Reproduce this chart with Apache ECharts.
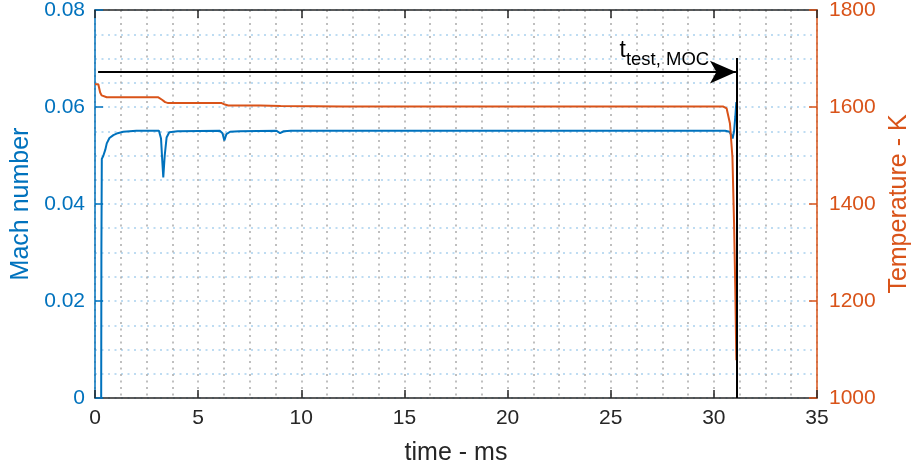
<!DOCTYPE html>
<html>
<head>
<meta charset="utf-8">
<script src="https://cdn.jsdelivr.net/npm/echarts@6/dist/echarts.min.js"></script>
<style>html,body{margin:0;padding:0;background:#fff}#c{width:914px;height:468px}</style>
</head>
<body>
<div id="c"></div>
<script>
// Mach number series (time in ms)
var machTime = [0.30, 0.31, 0.33, 0.40, 0.50, 0.57, 0.70, 0.89, 1.10, 1.37, 2.0, 3.10, 3.20, 3.26, 3.31, 3.38, 3.47, 3.60, 4.0, 6.05, 6.18, 6.27, 6.37, 6.55, 7.0, 8.80, 8.97, 9.15, 9.5, 12.0, 20.0, 30.55, 30.75, 30.85, 30.91, 30.98, 31.04, 31.09];
var machVal  = [0.0, 0.030, 0.0493, 0.0499, 0.0512, 0.0525, 0.0536, 0.0542, 0.0546, 0.0549, 0.0551, 0.0551, 0.0535, 0.0490, 0.0455, 0.0500, 0.0537, 0.0548, 0.0550, 0.0551, 0.0546, 0.0531, 0.0544, 0.0549, 0.0550, 0.0551, 0.0546, 0.0550, 0.0551, 0.0551, 0.0551, 0.0551, 0.0549, 0.0542, 0.0535, 0.0550, 0.0580, 0.0610];
// Temperature series (time in ms)
var tempTime = [0.0, 0.16, 0.25, 0.32, 0.57, 3.07, 3.25, 3.40, 3.55, 6.14, 6.30, 6.46, 8.0, 9.0, 12.0, 30.46, 30.62, 30.78, 30.90, 30.98, 31.04, 31.09];
var tempVal  = [1647, 1647, 1630, 1624, 1620, 1620, 1615, 1610, 1608, 1608, 1605, 1603, 1603, 1602, 1601, 1601, 1597, 1566, 1497, 1360, 1223, 1078];
// Annotation
var testEnd = 31.12;       // ms, end of test time (vertical line)
var arrowStart = 0.15;     // ms
var arrowLevel = 0.0672;   // on Mach axis
var lineTop = 0.0701;      // on Mach axis
var xTicks = [0, 5, 10, 15, 20, 25, 30, 35];
var machTicks = [0, 0.02, 0.04, 0.06, 0.08];
var tempTicks = [1000, 1200, 1400, 1600, 1800];

var BLUE = '#0072BD', ORANGE = '#D95319', DARK = '#262626';
var FONT = 'Liberation Sans, Arial, sans-serif';

function pairs(a, b) { return a.map(function (v, i) { return [v, b[i]]; }); }

var chart = echarts.init(document.getElementById('c'), null, {renderer: 'canvas'});
chart.setOption({
  animation: false,
  backgroundColor: '#fff',
  grid: {left: 95, right: 97, top: 10, bottom: 70, containLabel: false, outerBoundsMode: 'none'},
  xAxis: [{
    type: 'value', min: xTicks[0], max: xTicks[xTicks.length - 1], interval: 5,
    position: 'bottom',
    name: 'time - ms', nameLocation: 'middle', nameGap: 43,
    nameTextStyle: {fontFamily: FONT, fontSize: 25, color: DARK},
    axisLine: {show: true, onZero: false, lineStyle: {color: DARK, width: 1.5}},
    axisTick: {show: true, inside: true, length: 8, lineStyle: {color: DARK, width: 1.5}},
    axisLabel: {fontFamily: FONT, fontSize: 21, color: DARK, margin: 10},
    minorTick: {show: false, splitNumber: 4},
    splitLine: {show: true, lineStyle: {color: '#b0b0b0', type: [2, 4.5], width: 1.6}},
    minorSplitLine: {show: true, lineStyle: {color: '#b0b0b0', type: [2, 4.5], width: 1.6}}
  }, {
    type: 'value', min: xTicks[0], max: xTicks[xTicks.length - 1], interval: 5,
    position: 'top',
    axisLine: {show: true, onZero: false, lineStyle: {color: DARK, width: 1.5}},
    axisTick: {show: true, inside: true, length: 8, lineStyle: {color: DARK, width: 1.5}},
    axisLabel: {show: false},
    splitLine: {show: false}
  }],
  yAxis: [{
    type: 'value', min: machTicks[0], max: machTicks[machTicks.length - 1], interval: 0.02,
    position: 'left',
    name: 'Mach number', nameLocation: 'middle', nameGap: 60, nameRotate: 90,
    nameTextStyle: {fontFamily: FONT, fontSize: 25, color: BLUE},
    axisLine: {show: true, onZero: false, lineStyle: {color: BLUE, width: 1.5}},
    axisTick: {show: true, inside: true, length: 8, lineStyle: {color: BLUE, width: 1.5}},
    axisLabel: {fontFamily: FONT, fontSize: 21, color: BLUE, margin: 10,
      formatter: function (v) { return v === 0 ? '0' : v.toFixed(2); }},
    minorTick: {show: false, splitNumber: 4},
    splitLine: {show: true, lineStyle: {color: '#a9d1ee', type: [2, 4.5], width: 1.6}},
    minorSplitLine: {show: true, lineStyle: {color: '#a9d1ee', type: [2, 4.5], width: 1.6}}
  }, {
    type: 'value', min: tempTicks[0], max: tempTicks[tempTicks.length - 1], interval: 200,
    position: 'right',
    name: 'Temperature - K', nameLocation: 'middle', nameGap: 66, nameRotate: 90,
    nameTextStyle: {fontFamily: FONT, fontSize: 25, color: ORANGE},
    axisLine: {show: true, onZero: false, lineStyle: {color: ORANGE, width: 1.5}},
    axisTick: {show: true, inside: true, length: 8, lineStyle: {color: ORANGE, width: 1.5}},
    axisLabel: {fontFamily: FONT, fontSize: 21, color: ORANGE, margin: 12,
      formatter: function (v) { return String(v); }},
    splitLine: {show: false}
  }],
  series: [{
    name: 'annot', type: 'line', xAxisIndex: 0, yAxisIndex: 0, data: [],
    markLine: {
      silent: true, animation: false,
      label: {show: false},
      lineStyle: {color: '#000', width: 2, type: 'solid'},
      data: [
        [{coord: [arrowStart, arrowLevel], symbol: 'none'},
         {coord: [testEnd - 0.05, arrowLevel], symbol: 'arrow', symbolSize: [17, 26]}],
        [{coord: [testEnd, 0], symbol: 'none'},
         {coord: [testEnd, lineTop], symbol: 'none'}]
      ]
    },
    markPoint: {
      silent: true, symbol: 'rect', symbolSize: 0,
      data: [{coord: [27.6, 0.0708],
        label: {show: true, position: 'inside',
          formatter: '{t|t}{s|test, MOC}',
          rich: {
            t: {fontFamily: FONT, fontSize: 23, color: '#000', verticalAlign: 'top', lineHeight: 30},
            s: {fontFamily: FONT, fontSize: 18.5, color: '#000', verticalAlign: 'bottom', lineHeight: 30}
          }}}]
    },
    z: 2
  }, {
    name: 'Mach', type: 'line', xAxisIndex: 0, yAxisIndex: 0,
    data: pairs(machTime, machVal), showSymbol: false, smooth: false,
    lineStyle: {color: BLUE, width: 2}, z: 3
  }, {
    name: 'Temperature', type: 'line', xAxisIndex: 0, yAxisIndex: 1,
    data: pairs(tempTime, tempVal), showSymbol: false, smooth: false,
    lineStyle: {color: ORANGE, width: 2}, z: 4
  }]
});
</script>
</body>
</html>
